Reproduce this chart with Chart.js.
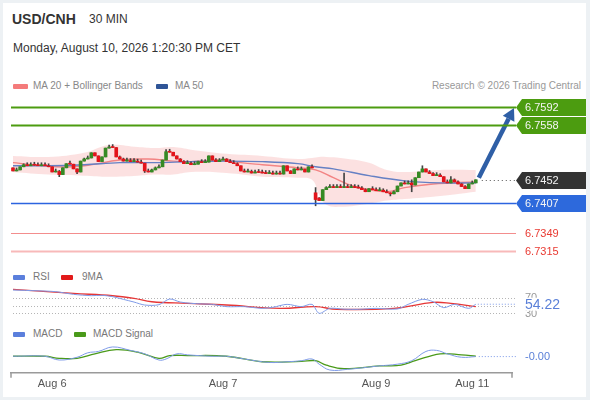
<!DOCTYPE html>
<html>
<head>
<meta charset="utf-8">
<script src="https://cdn.jsdelivr.net/npm/chart.js@4.4.0/dist/chart.umd.min.js"></script>
<style>
  body { margin: 0; width: 590px; height: 400px; background: #edf1f4; overflow: hidden;
         font-family: "Liberation Sans", Arial, sans-serif; }
  #panel { position: absolute; left: 3px; top: 3px; width: 583px; height: 394px; background: #fff; }
  .t { position: absolute; white-space: nowrap; line-height: 1; }
  .mk { position: absolute; height: 5px; border-radius: 1px; }
  canvas { position: absolute; left: 0; }
</style>
</head>
<body>
<div id="panel"></div>

<div class="t" style="left:12px;top:12px;font-size:14px;font-weight:bold;color:#333">USD/CNH</div>
<div class="t" style="left:89px;top:13px;font-size:12px;color:#333">30 MIN</div>
<div class="t" style="left:13px;top:42px;font-size:12px;color:#333">Monday, August 10, 2026 1:20:30 PM CET</div>

<div class="mk" style="left:13px;top:84px;width:15px;background:#f47b7b"></div>
<div class="t" style="left:33px;top:81px;font-size:10px;color:#888">MA 20 + Bollinger Bands</div>
<div class="mk" style="left:156px;top:84px;width:12px;background:#2f5597"></div>
<div class="t" style="left:175px;top:81px;font-size:10px;color:#888">MA 50</div>
<div class="t" style="right:9px;top:81px;font-size:10px;color:#999">Research © 2026 Trading Central</div>

<div class="mk" style="left:13px;top:275px;width:12px;background:#5b7fdc"></div>
<div class="t" style="left:33px;top:272px;font-size:10px;color:#777">RSI</div>
<div class="mk" style="left:61px;top:275px;width:12px;background:#e21a1a"></div>
<div class="t" style="left:82px;top:272px;font-size:10px;color:#777">9MA</div>

<div class="mk" style="left:13px;top:332px;width:12px;background:#5b7fdc"></div>
<div class="t" style="left:33px;top:329px;font-size:10px;color:#777">MACD</div>
<div class="mk" style="left:74px;top:332px;width:12px;background:#4a9a1a"></div>
<div class="t" style="left:93px;top:329px;font-size:10px;color:#777">MACD Signal</div>

<canvas id="main" width="590" height="170" style="top:95px"></canvas>
<canvas id="rsi" width="590" height="40" style="top:285px"></canvas>
<canvas id="macd" width="590" height="70" style="top:330px"></canvas>

<script>
// 30-minute candles, index 0..130
const opens = [
  6.7475, 6.7469, 6.7471, 6.7477, 6.7481, 6.7479, 6.7481, 6.7480, 6.7479, 6.7481,
  6.7479, 6.7477, 6.7467, 6.7468, 6.7462, 6.7475, 6.7483, 6.7482, 6.7473, 6.7467,
  6.7488, 6.7492, 6.7494, 6.7504, 6.7498, 6.7487, 6.7496, 6.7513, 6.7515, 6.7514,
  6.7496, 6.7492, 6.7488, 6.7489, 6.7487, 6.7488, 6.7486, 6.7484, 6.7469, 6.7467,
  6.7471, 6.7475, 6.7477, 6.7490, 6.7506, 6.7505, 6.7498, 6.7492, 6.7487, 6.7483,
  6.7484, 6.7481, 6.7482, 6.7487, 6.7485, 6.7486, 6.7498, 6.7490, 6.7487, 6.7490,
  6.7492, 6.7487, 6.7485, 6.7483, 6.7479, 6.7469, 6.7467, 6.7468, 6.7465, 6.7467,
  6.7466, 6.7465, 6.7464, 6.7465, 6.7463, 6.7464, 6.7463, 6.7479, 6.7469, 6.7464,
  6.7473, 6.7471, 6.7472, 6.7467, 6.7477, 6.7427, 6.7417, 6.7412, 6.7433, 6.7437,
  6.7439, 6.7437, 6.7439, 6.7437, 6.7438, 6.7437, 6.7439, 6.7437, 6.7436, 6.7433,
  6.7429, 6.7435, 6.7433, 6.7431, 6.7432, 6.7429, 6.7427, 6.7425, 6.7429, 6.7440,
  6.7446, 6.7444, 6.7446, 6.7442, 6.7456, 6.7467, 6.7473, 6.7467, 6.7464, 6.7460,
  6.7461, 6.7458, 6.7448, 6.7446, 6.7452, 6.7448, 6.7444, 6.7439, 6.7435, 6.7444,
  6.7446
];
const closes = [
  6.7469, 6.7471, 6.7477, 6.7481, 6.7479, 6.7481, 6.7480, 6.7479, 6.7481, 6.7479,
  6.7477, 6.7467, 6.7468, 6.7462, 6.7475, 6.7483, 6.7482, 6.7473, 6.7467, 6.7488,
  6.7492, 6.7494, 6.7504, 6.7498, 6.7487, 6.7496, 6.7513, 6.7515, 6.7514, 6.7496,
  6.7492, 6.7488, 6.7489, 6.7487, 6.7488, 6.7486, 6.7484, 6.7469, 6.7467, 6.7471,
  6.7475, 6.7477, 6.7490, 6.7506, 6.7505, 6.7498, 6.7492, 6.7487, 6.7483, 6.7484,
  6.7481, 6.7482, 6.7487, 6.7485, 6.7486, 6.7498, 6.7490, 6.7487, 6.7490, 6.7492,
  6.7487, 6.7485, 6.7483, 6.7479, 6.7469, 6.7467, 6.7468, 6.7465, 6.7467, 6.7466,
  6.7465, 6.7464, 6.7465, 6.7463, 6.7464, 6.7463, 6.7479, 6.7469, 6.7464, 6.7473,
  6.7471, 6.7472, 6.7467, 6.7477, 6.7475, 6.7414, 6.7412, 6.7433, 6.7437, 6.7439,
  6.7437, 6.7439, 6.7437, 6.7438, 6.7437, 6.7439, 6.7437, 6.7436, 6.7433, 6.7429,
  6.7435, 6.7433, 6.7431, 6.7432, 6.7429, 6.7427, 6.7425, 6.7429, 6.7440, 6.7446,
  6.7444, 6.7446, 6.7442, 6.7456, 6.7467, 6.7473, 6.7467, 6.7464, 6.7460, 6.7461,
  6.7458, 6.7448, 6.7446, 6.7452, 6.7448, 6.7444, 6.7439, 6.7435, 6.7444, 6.7446,
  6.7452
];
// wicks that stick out of the body (by candle index)
const highs = { 13: 6.7470, 27: 6.7519, 28: 6.7519, 43: 6.7510, 85: 6.7437, 93: 6.7465,
                112: 6.7452, 115: 6.7479, 123: 6.7458 };
const lows = { 13: 6.7458, 18: 6.7464, 37: 6.7466, 85: 6.7402, 106: 6.7421, 112: 6.7429 };

// overlays (candle index, price)
const ma20Idx = [0, 12, 20, 30, 38, 45, 50, 60, 64, 70, 80, 85, 90, 96, 105, 110, 118, 130];
const ma20 = [6.7485, 6.7477, 6.7479, 6.7490, 6.7492, 6.7488, 6.7487, 6.7490, 6.7485, 6.7481,
              6.7475, 6.7471, 6.7456, 6.7439, 6.7429, 6.7437, 6.7444, 6.7448];
const ma50Idx = [0, 10, 20, 30, 40, 50, 60, 70, 80, 85, 90, 100, 110, 120, 130];
const ma50 = [6.7479, 6.7479, 6.7481, 6.7485, 6.7485, 6.7487, 6.7488, 6.7487, 6.7483, 6.7477,
              6.7473, 6.7460, 6.7450, 6.7446, 6.7446];
const bandIdx = [0, 10, 20, 27, 35, 40, 45, 50, 60, 70, 80, 84, 86, 88, 92, 100, 105, 110, 120, 130];
const bbUpper = [6.7498, 6.7496, 6.7504, 6.7519, 6.7515, 6.7513, 6.7515, 6.7510, 6.7502, 6.7498,
                 6.7492, 6.7494, 6.7496, 6.7496, 6.7494, 6.7485, 6.7471, 6.7467, 6.7471, 6.7471];
const bbLower = [6.7467, 6.7462, 6.7460, 6.7458, 6.7460, 6.7462, 6.7462, 6.7467, 6.7465, 6.7458,
                 6.7456, 6.7452, 6.7423, 6.7404, 6.7400, 6.7406, 6.7412, 6.7415, 6.7421, 6.7429];

// support / resistance levels
const levelValues = [6.7592, 6.7558, 6.7452, 6.7407, 6.7349, 6.7315];
const targetLevel = 6.7592;

// RSI panel
const rsiIdx = [0, 7, 12, 17, 22, 25, 28, 31, 34, 37, 41, 44, 47, 50, 53, 56, 60, 65, 70, 73,
                77, 81, 84, 86, 89, 93, 97, 102, 108, 111, 115, 118, 121, 124, 128, 130];
const rsi = [92.1, 90.0, 87.7, 80.6, 77.0, 78.0, 74.4, 67.2, 60.0, 52.1, 53.0, 68.1, 60.0, 56.6,
             55.0, 53.9, 47.7, 47.7, 43.2, 46.0, 53.9, 47.7, 53.9, 29.9, 43.2, 41.0, 40.6, 43.2,
             41.5, 53.9, 67.2, 61.0, 45.0, 53.9, 43.2, 54.22];
const rsiMaIdx = [0, 17, 28, 34, 39, 49, 60, 75, 85, 91, 107, 118, 123, 130];
const rsiMa = [93.9, 83.2, 77.0, 69.9, 61.0, 56.6, 52.1, 43.2, 47.7, 40.6, 43.2, 59.2, 56.6, 47.7];
const rsiGuides = [70, 50, 30];

// MACD panel
const macdIdx = [0, 9, 13, 18, 21, 24, 28, 33, 37, 41, 43, 46, 49, 56, 60, 65, 72, 77, 81, 84,
                 86, 89, 94, 103, 108, 112, 116, 119, 122, 126, 130];
const macd = [-0.00002, -0.00002, -0.00013, -0.00005, 0.00008, 0.00012, 0.00025, 0.00015, 0.00005,
              -0.00013, -0.00010, 0.00005, 0.00002, -0.00002, -0.00002, -0.00010, -0.00020, -0.00018,
              -0.00015, -0.00010, -0.00025, -0.00042, -0.00040, -0.00030, -0.00025, -0.00015,
              0.00012, 0.00015, 0.00005, -0.00005, -0.00003];
const signalIdx = [0, 9, 13, 18, 23, 29, 35, 41, 44, 49, 60, 70, 81, 85, 88, 93, 103, 109, 113,
                   120, 126, 130];
const signal = [-0.00002, -0.00002, -0.00008, -0.00008, 0.00005, 0.00017, 0.00010, -0.00008, 0,
                0, -0.00002, -0.00018, -0.00017, -0.00015, -0.00028, -0.00038, -0.00030, -0.00028,
                -0.00015, 0.00005, 0.00002, -0.00002];

// time axis
const xTickIdx = [11, 59, 102, 129];
const xTickLabels = ['Aug 6', 'Aug 7', 'Aug 9', 'Aug 11'];

const X_MIN = -0.56, X_MAX = 140.17;
const FONT = '"Liberation Sans", Arial, sans-serif';
const PAD = { left: 11, right: 78 };
const LABEL_X = 525;
const LINE_END = 516;

const toPts = (idx, vals) => idx.map((x, k) => ({ x: x, y: vals[k] }));
const hiddenX = { type: 'linear', min: X_MIN, max: X_MAX, offset: false, display: false };
const baseOptions = {
    responsive: false,
    animation: false,
    events: [],
    plugins: { legend: { display: false }, tooltip: { enabled: false } }
};

// ---------- main price chart ----------
const bodies = closes.map((c, i) => ({ x: i, y: [opens[i], c] }));
const wicks = closes.map((c, i) => ({
    x: i,
    y: [lows[i] !== undefined ? lows[i] : Math.min(opens[i], c),
        highs[i] !== undefined ? highs[i] : Math.max(opens[i], c)]
}));
const bodyColors = closes.map((c, i) => c >= opens[i] ? '#368a24' : '#e3141b');

const levelLine = ['#4c9c10', '#4c9c10', null, '#2c64e0', '#f38d8d', '#f8b9b9'];
const levelWidth = [2, 2, 0, 1.5, 1, 2];
const levelTag = ['#4c9c10', '#4c9c10', '#333333', '#2d69dc', null, null];
const levelText = ['#f4f4f4', '#f4f4f4', '#f4f4f4', '#f4f4f4', '#e93a32', '#e93a32'];

const levelsPlugin = {
    id: 'levels',
    afterDatasetsDraw(chart) {
        const { ctx, chartArea, scales: { x, y } } = chart;
        const tipX = 516;
        ctx.save();
        // arrow from last candle to the target
        const last = closes.length - 1;
        const x0 = x.getPixelForValue(last) + 3, y0 = y.getPixelForValue(closes[last]) - 2;
        const x1 = 514, y1 = y.getPixelForValue(targetLevel) + 1;
        const ang = Math.atan2(y1 - y0, x1 - x0);
        const head = 12, hw = 6.5;
        const bx = x1 - head * Math.cos(ang), by = y1 - head * Math.sin(ang);
        ctx.strokeStyle = '#2f5fa6';
        ctx.fillStyle = '#2f5fa6';
        ctx.lineWidth = 4.5;
        ctx.beginPath(); ctx.moveTo(x0, y0); ctx.lineTo(bx, by); ctx.stroke();
        ctx.beginPath();
        ctx.moveTo(x1, y1);
        ctx.lineTo(bx + hw * Math.sin(ang), by - hw * Math.cos(ang));
        ctx.lineTo(bx - hw * Math.sin(ang), by + hw * Math.cos(ang));
        ctx.closePath(); ctx.fill();

        levelValues.forEach((v, k) => {
            const py = Math.round(y.getPixelForValue(v)) + 0.5;
            if (levelLine[k]) {
                ctx.strokeStyle = levelLine[k];
                ctx.lineWidth = levelWidth[k];
                ctx.setLineDash([]);
                ctx.beginPath(); ctx.moveTo(chartArea.left, py); ctx.lineTo(tipX, py); ctx.stroke();
            } else {
                ctx.strokeStyle = '#555';
                ctx.lineWidth = 1;
                ctx.setLineDash([1, 3]);
                ctx.beginPath(); ctx.moveTo(x.getPixelForValue(last) + 6, py); ctx.lineTo(tipX, py); ctx.stroke();
                ctx.setLineDash([]);
            }
            if (levelTag[k]) {
                ctx.fillStyle = levelTag[k];
                ctx.beginPath();
                ctx.moveTo(tipX, py);
                ctx.lineTo(tipX + 6, py - 8.5);
                ctx.lineTo(586, py - 8.5);
                ctx.lineTo(586, py + 8.5);
                ctx.lineTo(tipX + 6, py + 8.5);
                ctx.closePath(); ctx.fill();
            }
            ctx.fillStyle = levelText[k];
            ctx.font = '11px ' + FONT;
            ctx.textBaseline = 'middle';
            ctx.textAlign = 'left';
            ctx.fillText(v.toFixed(4), LABEL_X, py + 0.5);
        });
        ctx.restore();
    }
};

new Chart(document.getElementById('main'), {
    type: 'bar',
    data: {
        datasets: [
            { type: 'line', data: toPts(bandIdx, bbUpper), borderColor: 'transparent', pointRadius: 0,
              fill: '+1', backgroundColor: 'rgba(249,196,196,0.5)', tension: 0.4, order: 5 },
            { type: 'line', data: toPts(bandIdx, bbLower), borderColor: 'transparent', pointRadius: 0,
              fill: false, tension: 0.4, order: 6 },
            { type: 'line', data: toPts(ma50Idx, ma50), borderColor: '#6580c4', borderWidth: 1.4,
              pointRadius: 0, tension: 0.4, order: 3 },
            { type: 'line', data: toPts(ma20Idx, ma20), borderColor: '#f38484', borderWidth: 1.4,
              pointRadius: 0, tension: 0.4, order: 4 },
            { type: 'bar', data: wicks, backgroundColor: '#444', barThickness: 1, grouped: false,
              minBarLength: 3, order: 2 },
            { type: 'bar', data: bodies, backgroundColor: bodyColors, barThickness: 3, grouped: false,
              minBarLength: 1, order: 1 }
        ]
    },
    options: {
        ...baseOptions,
        layout: { padding: { left: PAD.left, right: PAD.right, top: 0, bottom: 0 } },
        scales: {
            x: hiddenX,
            y: { type: 'linear', min: 6.72881, max: 6.76151, display: false }
        }
    },
    plugins: [levelsPlugin]
});

// ---------- RSI ----------
const rsiPlugin = {
    id: 'rsiGuides',
    beforeDatasetsDraw(chart) {
        const { ctx, chartArea, scales: { y } } = chart;
        ctx.save();
        ctx.strokeStyle = '#b5b5b5';
        ctx.lineWidth = 1;
        ctx.setLineDash([1, 2]);
        rsiGuides.forEach(g => {
            const py = Math.round(y.getPixelForValue(g)) + 0.5;
            ctx.beginPath(); ctx.moveTo(chartArea.left + 2, py); ctx.lineTo(LINE_END, py); ctx.stroke();
        });
        ctx.restore();
    },
    afterDraw(chart) {
        const { ctx, scales: { x, y } } = chart;
        const lastV = rsi[rsi.length - 1];
        const lx = x.getPixelForValue(rsiIdx[rsiIdx.length - 1]);
        const ly = y.getPixelForValue(lastV);
        ctx.save();
        ctx.strokeStyle = '#7b98e8';
        ctx.setLineDash([1, 2]);
        ctx.beginPath(); ctx.moveTo(lx + 2, ly); ctx.lineTo(LINE_END, ly); ctx.stroke();
        ctx.setLineDash([]);
        ctx.font = '11px ' + FONT;
        ctx.textBaseline = 'middle';
        ctx.fillStyle = '#999';
        ctx.fillText(String(rsiGuides[0]), LABEL_X, y.getPixelForValue(rsiGuides[0]) - 0.5);
        ctx.fillText(String(rsiGuides[2]), LABEL_X, y.getPixelForValue(rsiGuides[2]) + 1);
        ctx.fillStyle = '#fff';
        ctx.fillRect(LABEL_X - 1, ly - 6.5, 42, 13);
        ctx.fillStyle = '#5b80d8';
        ctx.font = '14px ' + FONT;
        ctx.fillText(lastV.toFixed(2), LABEL_X, ly + 0.5);
        ctx.restore();
    }
};

new Chart(document.getElementById('rsi'), {
    type: 'line',
    data: {
        datasets: [
            { data: toPts(rsiIdx, rsi), borderColor: '#7f9be8', borderWidth: 1, pointRadius: 0, tension: 0.3 },
            { data: toPts(rsiMaIdx, rsiMa), borderColor: '#e63636', borderWidth: 1.4, pointRadius: 0, tension: 0.4 }
        ]
    },
    options: {
        ...baseOptions,
        layout: { padding: { left: PAD.left, right: PAD.right, top: 0, bottom: 0 } },
        scales: {
            x: hiddenX,
            y: { type: 'linear', min: -1.2, max: 105.5, display: false }
        }
    },
    plugins: [rsiPlugin]
});

// ---------- MACD ----------
const macdPlugin = {
    id: 'macdExtras',
    afterDraw(chart) {
        const { ctx, chartArea, scales: { x, y } } = chart;
        const lastV = macd[macd.length - 1];
        const lx = x.getPixelForValue(macdIdx[macdIdx.length - 1]);
        const ly = y.getPixelForValue(lastV);
        ctx.save();
        ctx.strokeStyle = '#7b98e8';
        ctx.lineWidth = 1;
        ctx.setLineDash([1, 2]);
        ctx.beginPath(); ctx.moveTo(lx + 3, ly); ctx.lineTo(LINE_END, ly); ctx.stroke();
        ctx.setLineDash([]);
        ctx.font = '11px ' + FONT;
        ctx.textBaseline = 'middle';
        ctx.fillStyle = '#5b80d8';
        ctx.fillText(lastV.toFixed(2), LABEL_X, ly);
        // end ticks of the time axis
        ctx.strokeStyle = '#9a9a9a';
        ctx.lineWidth = 1.5;
        [chartArea.left, chartArea.right].forEach(px => {
            ctx.beginPath(); ctx.moveTo(px, chartArea.bottom); ctx.lineTo(px, chartArea.bottom + 5); ctx.stroke();
        });
        ctx.restore();
    }
};

new Chart(document.getElementById('macd'), {
    type: 'line',
    data: {
        datasets: [
            { data: toPts(macdIdx, macd), borderColor: '#7f9be8', borderWidth: 1, pointRadius: 0, tension: 0.4 },
            { data: toPts(signalIdx, signal), borderColor: '#4a9a1a', borderWidth: 1.3, pointRadius: 0, tension: 0.4 }
        ]
    },
    options: {
        ...baseOptions,
        layout: { padding: { left: PAD.left, right: PAD.right, top: 8, bottom: 4 } },
        scales: {
            x: {
                type: 'linear', min: X_MIN, max: X_MAX, offset: false,
                grid: { display: false, drawTicks: false },
                border: { display: true, color: '#9a9a9a', width: 1.5 },
                afterBuildTicks: (axis) => { axis.ticks = xTickIdx.map(v => ({ value: v })); },
                ticks: {
                    autoSkip: false, maxRotation: 0, padding: 5, color: '#555',
                    font: { size: 11, family: FONT },
                    callback: (v, i) => xTickLabels[i]
                }
            },
            y: { type: 'linear', min: -0.000501, max: 0.00051, display: false }
        }
    },
    plugins: [macdPlugin]
});
</script>
</body>
</html>
